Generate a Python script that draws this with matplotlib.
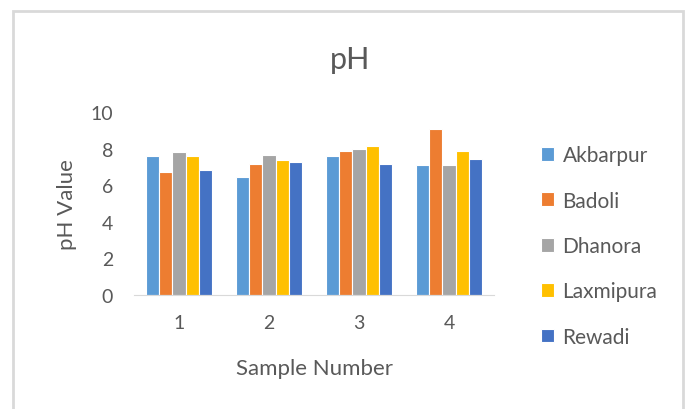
import matplotlib.pyplot as plt
import numpy as np
from matplotlib.patches import Rectangle

samples = ["1", "2", "3", "4"]
sites = ["Akbarpur", "Badoli", "Dhanora", "Laxmipura", "Rewadi"]
akbarpur = [7.6, 6.45, 7.6, 7.1]
badoli = [6.7, 7.15, 7.85, 9.05]
dhanora = [7.8, 7.65, 8.0, 7.1]
laxmipura = [7.6, 7.35, 8.15, 7.85]
rewadi = [6.85, 7.25, 7.15, 7.45]
colors = ["#5B9BD5", "#ED7D31", "#A5A5A5", "#FFC000", "#4472C4"]

plt.rcParams['font.family'] = ['Lato', 'DejaVu Sans']
txt = "#595959"

fig = plt.figure(figsize=(6.86, 4.10), dpi=100)
fig.patches.append(Rectangle((13 / 686, -0.05), (683 - 13) / 686, (410 - 12) / 410 + 0.05,
                             transform=fig.transFigure, fill=False,
                             edgecolor="#d9d9d9", linewidth=2))
ax = fig.add_axes([134 / 686, 114 / 410, 360 / 686, 183 / 410])

x = np.arange(len(samples))
w = 0.145
series = [akbarpur, badoli, dhanora, laxmipura, rewadi]
for i, (vals, c, name) in enumerate(zip(series, colors, sites)):
    ax.bar(x + (i - 2) * w, vals, w, color=c, edgecolor="white", linewidth=0.8, label=name)

ax.set_xlim(-0.5, 3.5)
ax.set_ylim(0, 10)
ax.set_yticks(range(0, 11, 2))
ax.set_xticks(x)
ax.set_xticklabels(samples)
for s in ["top", "right", "left"]:
    ax.spines[s].set_visible(False)
ax.spines["bottom"].set_color("#d9d9d9")
ax.tick_params(length=0, labelsize=14, colors=txt)
ax.tick_params(axis="y", pad=15)
ax.tick_params(axis="x", pad=14)

ax.set_ylabel("pH Value", fontsize=16, color=txt, labelpad=10)
ax.set_xlabel("Sample Number", fontsize=16, color=txt, labelpad=19)
fig.text(350 / 686, 1 - 60 / 410, "pH", fontsize=22, color=txt, ha="center", va="center")

fig.legend(loc="center left", bbox_to_anchor=(522 / 686, 1 - 247 / 410), frameon=False,
           fontsize=15, handlelength=0.65, handleheight=0.65, handletextpad=0.4,
           labelspacing=1.22, labelcolor=txt)

fig.savefig("out.png", dpi=100)
